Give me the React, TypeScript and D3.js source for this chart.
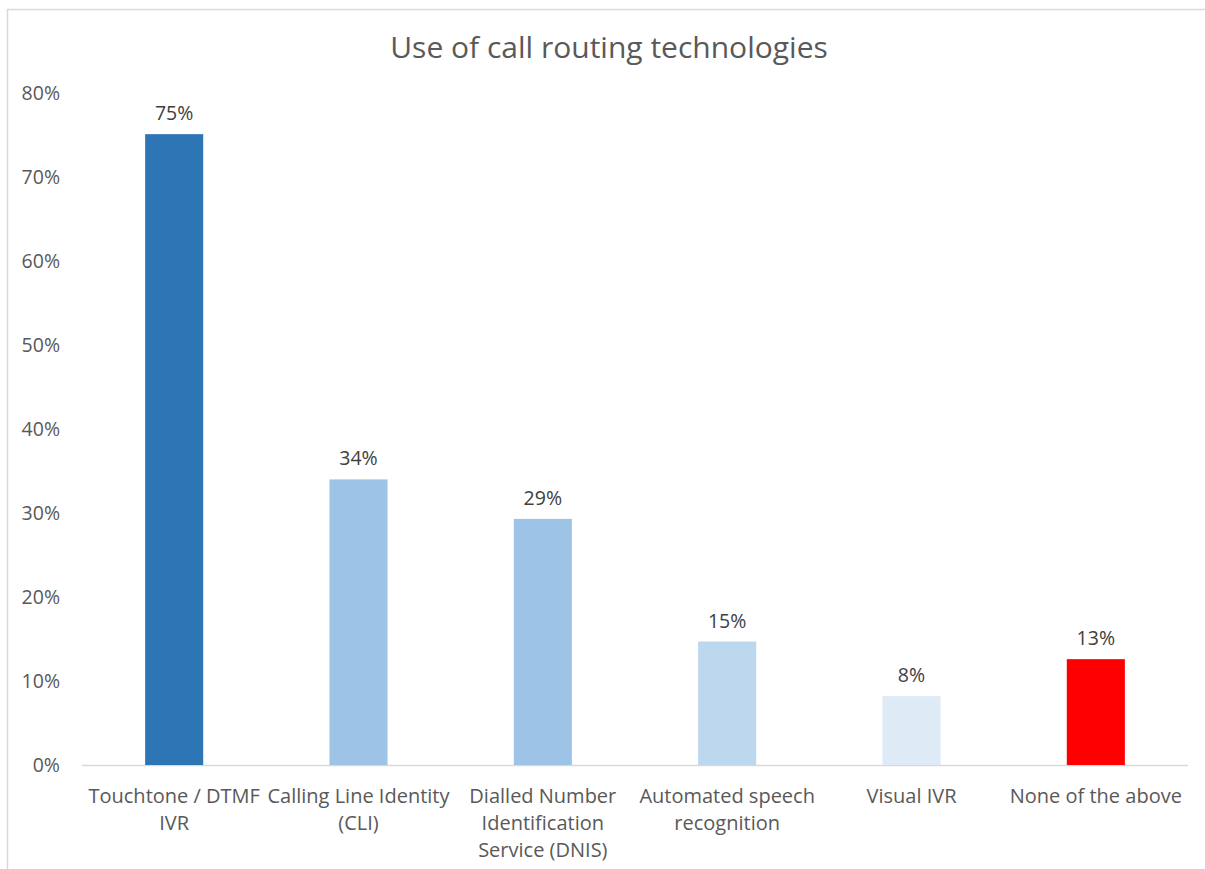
import React from "react";
import * as d3 from "d3";

const categories: string[][] = [
  ["Touchtone / DTMF", "IVR"],
  ["Calling Line Identity", "(CLI)"],
  ["Dialled Number", "Identification", "Service (DNIS)"],
  ["Automated speech", "recognition"],
  ["Visual IVR"],
  ["None of the above"],
];
const values: number[] = [0.751, 0.34, 0.293, 0.147, 0.082, 0.126];
const labels: string[] = ["75%", "34%", "29%", "15%", "8%", "13%"];
const colors: string[] = ["#2E75B6", "#9DC3E6", "#9DC3E6", "#BDD7EE", "#DEEBF7", "#FF0000"];
const yTicks: number[] = [0, 0.1, 0.2, 0.3, 0.4, 0.5, 0.6, 0.7, 0.8];
const title = "Use of call routing technologies";

const W = 1205;
const H = 869;
const FONT = "'Open Sans', 'Noto Sans', sans-serif";

export default function App() {
  const left = 82, right = 1188, top = 93, bottom = 765;
  const x = d3.scaleBand<number>().domain(d3.range(values.length)).range([left, right]).paddingInner(0.685).paddingOuter(0.3425);
  const y = d3.scaleLinear().domain([0, 0.8]).range([bottom, top]);
  const fmt = d3.format(".0%");
  return (
    <svg width={W} height={H} style={{ position: "absolute", left: 0, top: 0, background: "#fff" }}>
      <rect x={7.5} y={9.5} width={W + 10} height={H + 10} fill="#fff" stroke="#D9D9D9" strokeWidth={1.5} />
      <text x={609} y={58} textAnchor="middle" fontFamily={FONT} fontSize={30} fill="#595959">{title}</text>
      {yTicks.map((t) => (
        <text key={t} x={60} y={y(t)} dy="0.35em" textAnchor="end" fontFamily={FONT} fontSize={19.5} fill="#595959">{fmt(t)}</text>
      ))}
      <line x1={left} x2={right} y1={bottom + 0.5} y2={bottom + 0.5} stroke="#D9D9D9" strokeWidth={1.5} />
      {values.map((v, i) => (
        <g key={i}>
          <rect x={x(i)} y={y(v)} width={x.bandwidth()} height={bottom - y(v)} fill={colors[i]} />
          <text x={(x(i) as number) + x.bandwidth() / 2} y={y(v) - 14} textAnchor="middle" fontFamily={FONT} fontSize={19.5} fill="#404040">{labels[i]}</text>
        </g>
      ))}
      {categories.map((lines, i) => (
        <text key={i} textAnchor="middle" fontFamily={FONT} fontSize={20} fill="#595959">
          {lines.map((l, j) => (
            <tspan key={j} x={(x(i) as number) + x.bandwidth() / 2} y={803 + j * 27}>{l}</tspan>
          ))}
        </text>
      ))}
    </svg>
  );
}
